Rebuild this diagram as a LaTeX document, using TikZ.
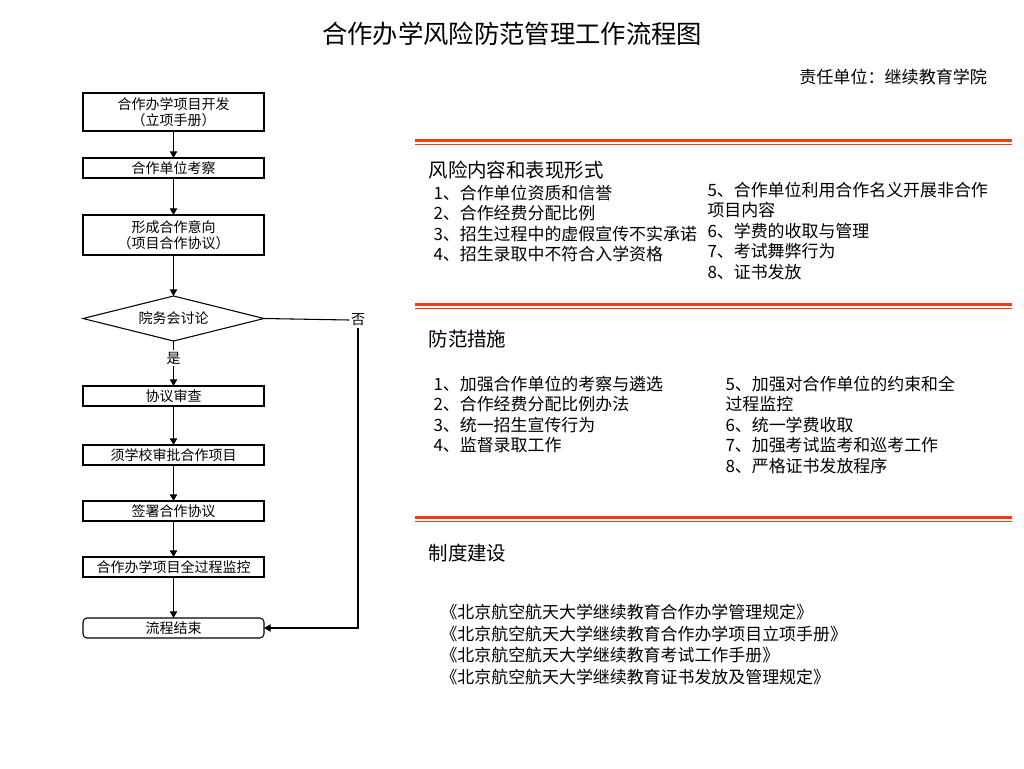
\documentclass[tikz,border=0pt]{standalone}
\usepackage{fontspec}
\setmainfont{Noto Sans CJK SC}
\usetikzlibrary{positioning,shapes.geometric,arrows.meta}
\definecolor{hengxian}{RGB}{240,60,18}

\begin{document}
\begin{tikzpicture}[x=0.75pt, y=-0.75pt, line width=0.8pt,
    box/.style = {draw, minimum width=135.75pt, minimum height=15pt, inner sep=1pt, outer sep=0pt, align=center, font=\fontsize{10.5}{12}\selectfont},
    panduan/.style = {draw, diamond, aspect=4, minimum width=135.75pt, minimum height=33.75pt, inner sep=0pt, outer sep=0pt, font=\fontsize{10.5}{12}\selectfont},
    biaozhu/.style = {inner sep=1pt, font=\fontsize{10.5}{12}\selectfont},
    arr/.style = {-{Triangle[length=5pt,width=5.5pt]}},
    item/.style = {anchor=west, inner sep=0pt, font=\fontsize{12.7}{15}\selectfont},
    head/.style = {anchor=west, inner sep=0pt, font=\fontsize{14.6}{17}\selectfont}]
    \useasboundingbox[fill=white] (0,0) rectangle (1024,768);
    % title
    \node[font=\fontsize{19}{22}\selectfont] (title) at (512,34) {合作办学风险防范管理工作流程图};
    \node[anchor=east, font=\fontsize{12.8}{16}\selectfont] (danwei) at (992,77) {责任单位：继续教育学院};
    % flow chart
    \node[box, minimum height=28.5pt] (kaifa) at (173.5,112) {合作办学项目开发\\（立项手册）};
    \node[box] (kaocha) [below=20.25pt of kaifa] {合作单位考察};
    \node[box, minimum height=30pt] (yixiang) [below=27.75pt of kaocha] {形成合作意向\\（项目合作协议）};
    \node[panduan] (taolun) [below=30.75pt of yixiang] {院务会讨论};
    \node[biaozhu] (shi) [below=7pt of taolun] {是};
    \node[box] (shencha) [below=33.75pt of taolun] {协议审查};
    \node[box] (shenpi) [below=29.25pt of shencha] {须学校审批合作项目};
    \node[box] (qianshu) [below=27pt of shenpi] {签署合作协议};
    \node[box] (jiankong) [below=27pt of qianshu] {合作办学项目全过程监控};
    \node[box, rounded corners=3pt] (jieshu) [below=30.75pt of jiankong] {流程结束};
    \node[biaozhu] (fou) at (358,320) {否};
    \draw[arr] (kaifa) -- (kaocha);
    \draw[arr] (kaocha) -- (yixiang);
    \draw[arr] (yixiang) -- (taolun);
    \draw (taolun) -- (shi);
    \draw[arr] (shi) -- (shencha);
    \draw[arr] (shencha) -- (shenpi);
    \draw[arr] (shenpi) -- (qianshu);
    \draw[arr] (qianshu) -- (jiankong);
    \draw[arr] (jiankong) -- (jieshu);
    \draw (taolun.east) -- (fou.west);
    \draw[arr] (fou.south) |- (jieshu.east);
    % orange rules
    \foreach \y in {140.5,304.5,517.5} {
        \draw[hengxian, line width=2.4pt] (415,\y) -- (1012,\y);
        \draw[hengxian, line width=1pt] (415,\y+4) -- (1012,\y+4);
    }
    % risk
    \node[head] (fengxian) at (428,170) {风险内容和表现形式};
    \foreach \t [count=\i] in {1、合作单位资质和信誉, 2、合作经费分配比例, 3、招生过程中的虚假宣传不实承诺, 4、招生录取中不符合入学资格}
        \node[item] (fx\i) at (433,{193+20.3*(\i-1)}) {\t};
    \foreach \t [count=\i] in {5、合作单位利用合作名义开展非合作, 项目内容, 6、学费的收取与管理, 7、考试舞弊行为, 8、证书发放}
        \node[item] (fy\i) at (707,{190+20.5*(\i-1)}) {\t};
    % measures
    \node[head] (cuoshi) at (428,339) {防范措施};
    \foreach \t [count=\i] in {1、加强合作单位的考察与遴选, 2、合作经费分配比例办法, 3、统一招生宣传行为, 4、监督录取工作}
        \node[item] (cs\i) at (433,{384+20.4*(\i-1)}) {\t};
    \foreach \t [count=\i] in {5、加强对合作单位的约束和全, 过程监控, 6、统一学费收取, 7、加强考试监考和巡考工作, 8、严格证书发放程序}
        \node[item] (ct\i) at (725,{384+20.5*(\i-1)}) {\t};
    % rules
    \node[head] (zhidu) at (428,553) {制度建设};
    \foreach \t [count=\i] in {《北京航空航天大学继续教育合作办学管理规定》, 《北京航空航天大学继续教育合作办学项目立项手册》, 《北京航空航天大学继续教育考试工作手册》, 《北京航空航天大学继续教育证书发放及管理规定》}
        \node[item] (zd\i) at (440,{612+21.6*(\i-1)}) {\t};
\end{tikzpicture}
\end{document}
